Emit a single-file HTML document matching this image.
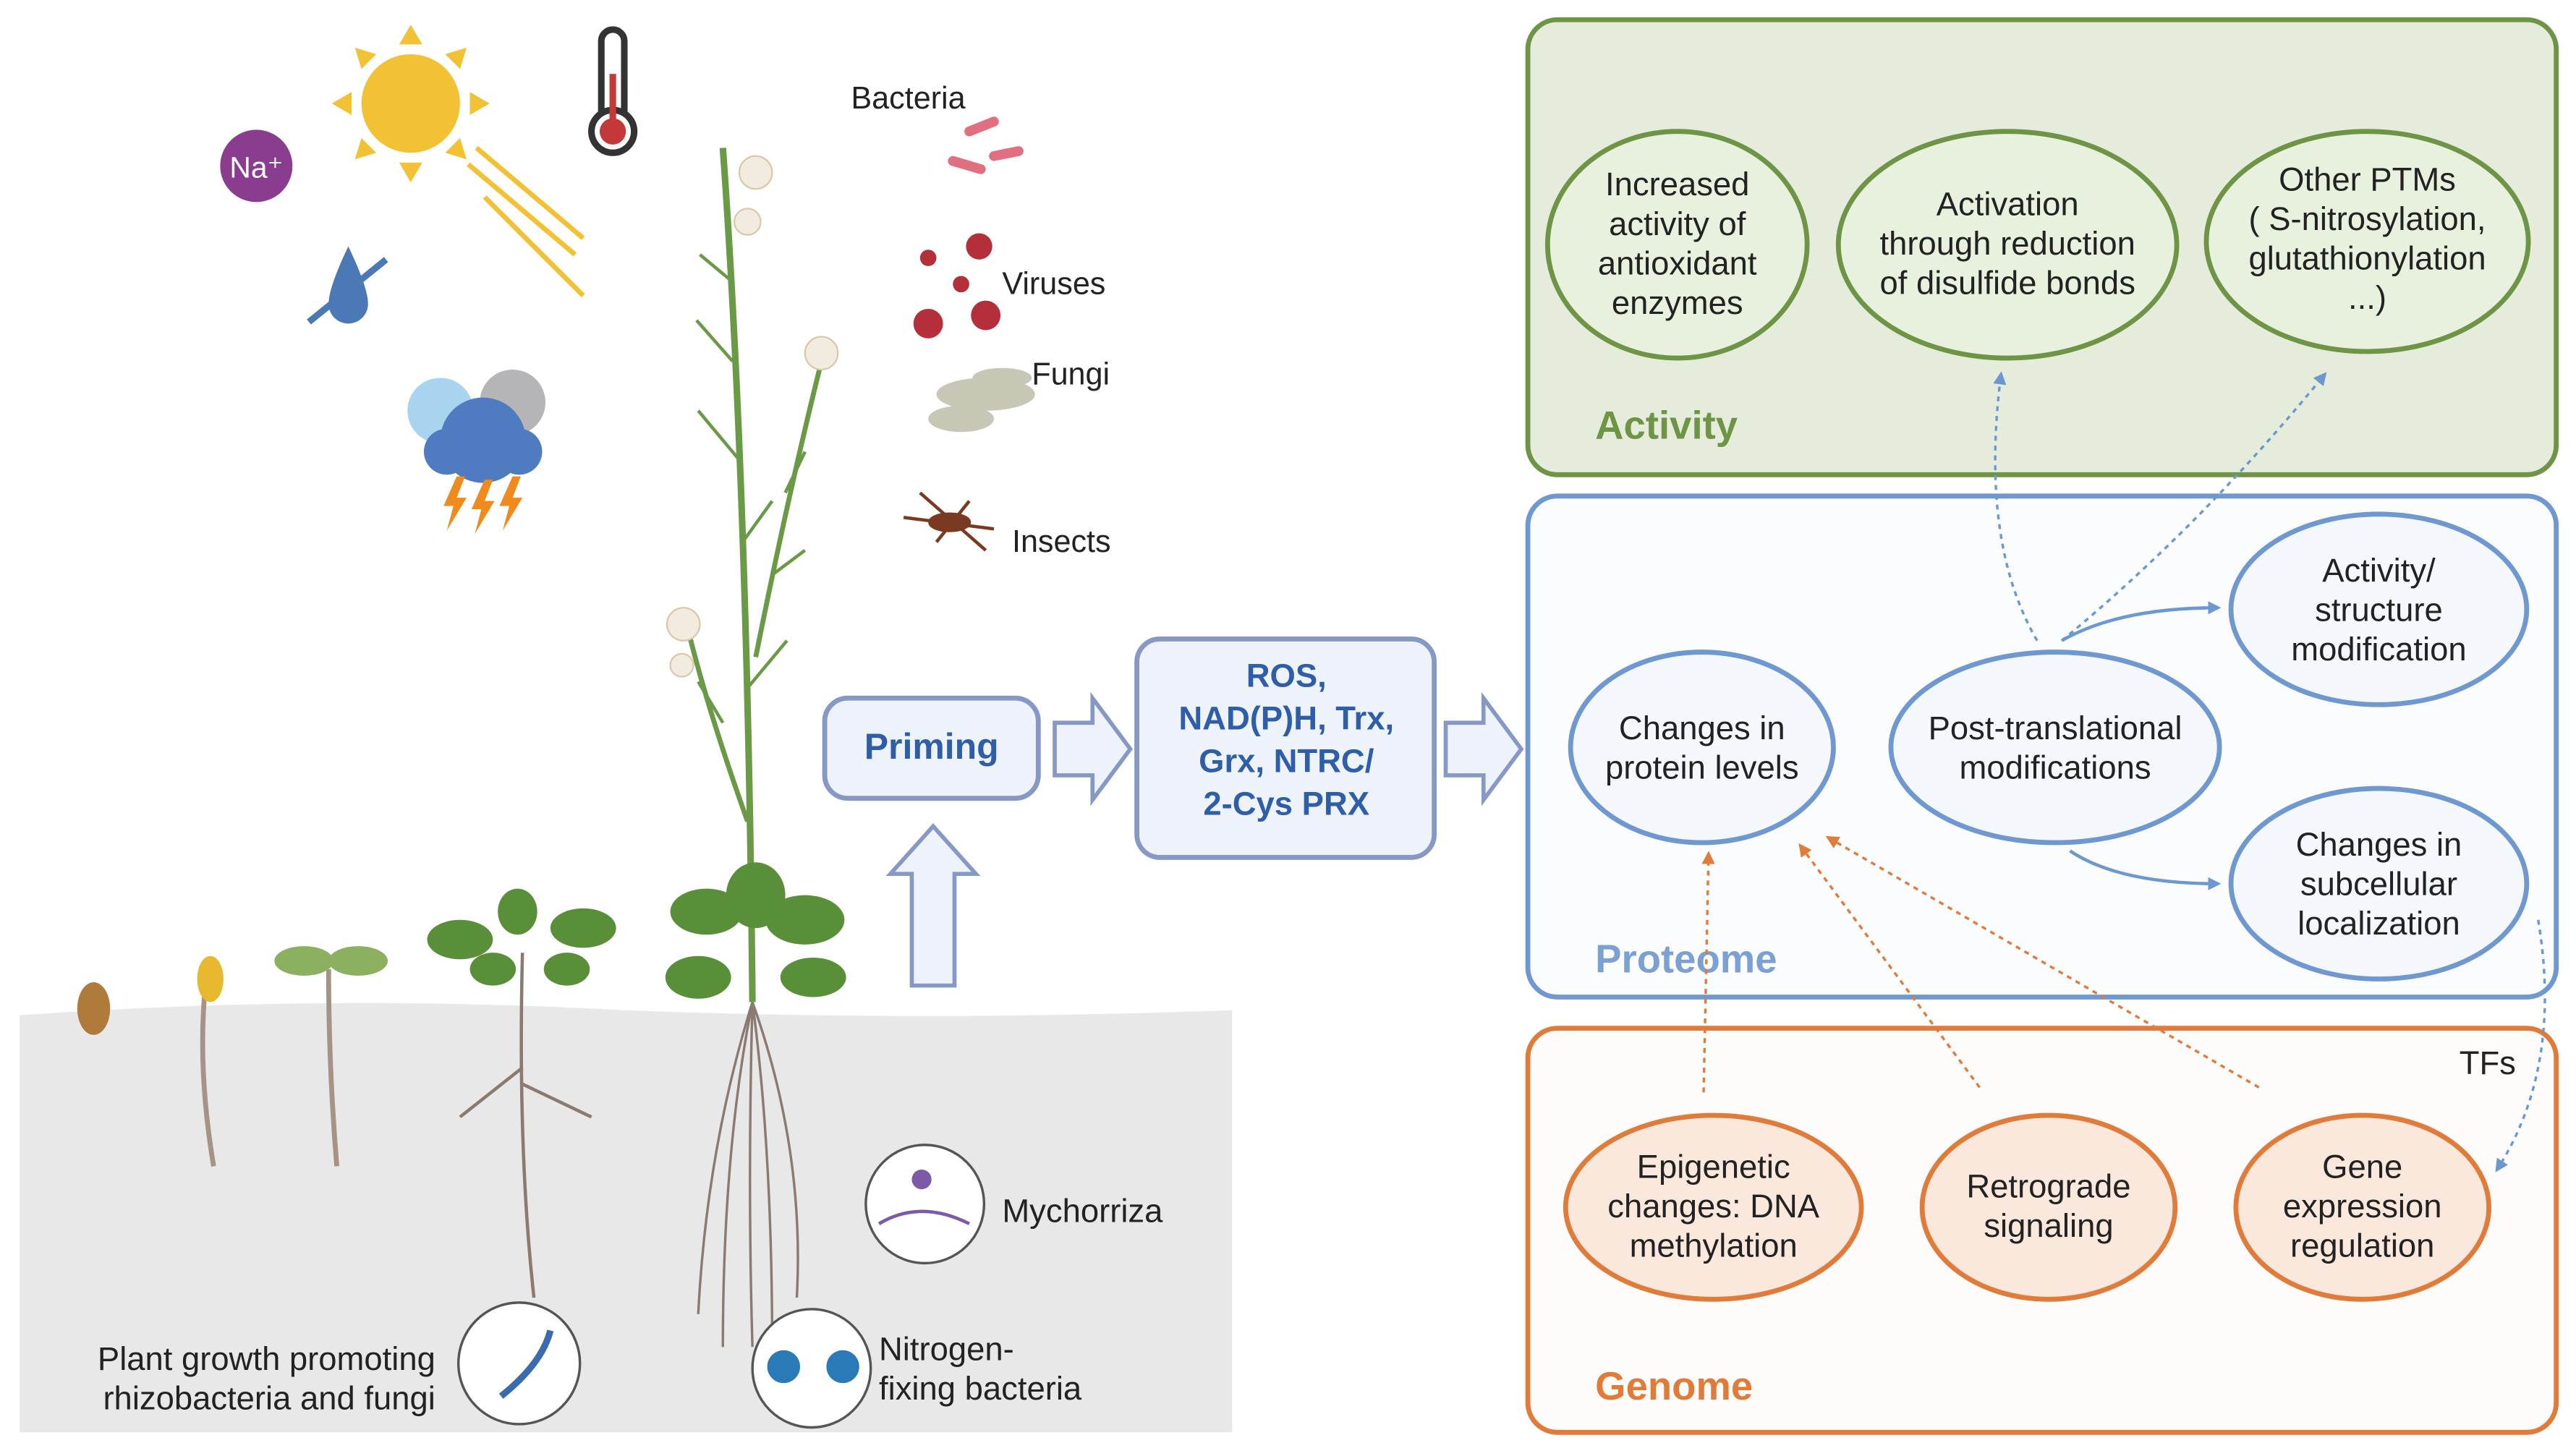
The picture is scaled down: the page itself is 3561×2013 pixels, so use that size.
<!DOCTYPE html>
<html><head><meta charset="utf-8"><style>
html,body{margin:0;padding:0;background:#fff}
svg{display:block}
text{font-family:"Liberation Sans",sans-serif}
</style></head><body>
<svg width="3561" height="2013" viewBox="0 0 1568 886.4" xmlns="http://www.w3.org/2000/svg">
<defs>
<marker id="ab" markerWidth="8" markerHeight="8" refX="6" refY="4" orient="auto" markerUnits="userSpaceOnUse"><path d="M0,0 L8,4 L0,8 Z" fill="#6a98cf"/></marker>
<marker id="ao" markerWidth="8" markerHeight="8" refX="6" refY="4" orient="auto" markerUnits="userSpaceOnUse"><path d="M0,0 L8,4 L0,8 Z" fill="#e07b3a"/></marker>
</defs>
<rect width="1568" height="887" fill="#fff"/>
<!-- soil -->
<path d="M12,618 Q200,605 380,615 Q560,622 750,615 L750,872 L12,872 Z" fill="#e9e8e8"/>
<!-- sun -->
<circle cx="250" cy="63" r="30" fill="#f2c234"/>
<g fill="#f2c234"><path d="M250,15 l7,12 h-14z"/><path d="M250,111 l7,-12 h-14z"/><path d="M202,63 l12,7 v-14z"/><path d="M298,63 l-12,7 v-14z"/><path d="M216,29 l13,4 l-9,9z"/><path d="M284,29 l-13,4 l9,9z"/><path d="M216,97 l13,-4 l-9,-9z"/><path d="M284,97 l-13,-4 l9,-9z"/></g>
<g stroke="#f2c234" stroke-width="3"><line x1="290" y1="90" x2="355" y2="145"/><line x1="285" y1="100" x2="350" y2="155"/><line x1="295" y1="120" x2="355" y2="180"/></g>
<!-- thermometer -->
<rect x="366" y="18" width="14" height="60" rx="7" fill="#fff" stroke="#333" stroke-width="4"/><circle cx="373" cy="80" r="13" fill="#fff" stroke="#333" stroke-width="4"/><circle cx="373" cy="80" r="8" fill="#c43838"/><rect x="371" y="45" width="4" height="35" fill="#c43838"/>
<!-- Na -->
<circle cx="156" cy="101" r="22" fill="#8a3d8e"/><text x="156" y="108" font-size="18" fill="#fff" text-anchor="middle">Na⁺</text>
<!-- drop -->
<path d="M212,150 Q200,175 200,185 A12,12 0 0 0 224,185 Q224,175 212,150Z" fill="#4b79b6"/><line x1="188" y1="196" x2="235" y2="158" stroke="#4b79b6" stroke-width="4"/>
<!-- clouds -->
<circle cx="268" cy="250" r="20" fill="#a8d4ef"/><circle cx="312" cy="245" r="20" fill="#b5b5b8"/><circle cx="294" cy="268" r="26" fill="#4f7cc0"/><circle cx="272" cy="275" r="14" fill="#4f7cc0"/><circle cx="316" cy="275" r="14" fill="#4f7cc0"/>
<g fill="#f08a1c"><path d="M278,290 l-8,18 h6 l-4,15 l12,-20 h-6 l5,-13z"/><path d="M295,292 l-8,18 h6 l-4,15 l12,-20 h-6 l5,-13z"/><path d="M312,290 l-8,18 h6 l-4,15 l12,-20 h-6 l5,-13z"/></g>
<!-- biotic -->
<text x="518" y="66" font-size="19" fill="#222">Bacteria</text>
<g stroke="#e07080" stroke-width="6" stroke-linecap="round"><line x1="590" y1="80" x2="605" y2="74"/><line x1="580" y1="98" x2="597" y2="103"/><line x1="605" y1="95" x2="620" y2="92"/></g>
<g fill="#b52f3a"><circle cx="596" cy="150" r="8"/><circle cx="565" cy="157" r="5"/><circle cx="585" cy="173" r="5"/><circle cx="565" cy="197" r="9"/><circle cx="600" cy="192" r="9"/></g>
<text x="610" y="179" font-size="19" fill="#222">Viruses</text>
<g fill="#c8c6b4"><ellipse cx="600" cy="240" rx="30" ry="10"/><ellipse cx="585" cy="255" rx="20" ry="8"/><ellipse cx="610" cy="230" rx="18" ry="6"/></g>
<text x="628" y="234" font-size="19" fill="#222">Fungi</text>
<g stroke="#7a3a22" stroke-width="2"><ellipse cx="578" cy="318" rx="12" ry="5" fill="#7a3a22"/><line x1="560" y1="300" x2="600" y2="335"/><line x1="570" y1="330" x2="590" y2="305"/><line x1="550" y1="315" x2="605" y2="322"/></g>
<text x="616" y="336" font-size="19" fill="#222">Insects</text>
<!-- tall plant -->
<path d="M440,90 Q455,300 458,610" stroke="#6a9a45" stroke-width="4" fill="none"/>
<path d="M460,400 Q480,300 500,220" stroke="#6a9a45" stroke-width="3" fill="none"/>
<path d="M455,500 Q430,430 418,380" stroke="#6a9a45" stroke-width="3" fill="none"/>
<g stroke="#6a9a45" stroke-width="2" fill="none"><path d="M444,170 l-18,-15"/><path d="M446,220 l-22,-25"/><path d="M450,280 l-25,-30"/><path d="M452,330 l18,-25"/><path d="M454,420 l25,-30"/><path d="M478,300 l12,-25"/><path d="M470,350 l20,-15"/><path d="M440,440 l-15,-25"/></g>
<g fill="#f2ece0" stroke="#d9c9a8"><circle cx="460" cy="105" r="10"/><circle cx="455" cy="135" r="8"/><circle cx="500" cy="215" r="10"/><circle cx="416" cy="380" r="10"/><circle cx="415" cy="405" r="7"/></g>
<g fill="#5a8f3a"><ellipse cx="430" cy="555" rx="22" ry="14"/><ellipse cx="490" cy="560" rx="24" ry="15"/><ellipse cx="460" cy="545" rx="18" ry="20"/><ellipse cx="425" cy="595" rx="20" ry="13"/><ellipse cx="495" cy="595" rx="20" ry="12"/></g>
<path d="M458,610 Q440,700 440,820 M458,610 Q470,700 470,820 M458,610 Q455,720 458,820 M458,610 Q430,700 425,800 M458,610 Q490,700 485,790" stroke="#8a7a70" stroke-width="1.5" fill="none"/>
<!-- seedlings -->
<ellipse cx="57" cy="614" rx="10" ry="16" fill="#b07a3a"/>
<path d="M125,600 Q120,650 130,710" stroke="#a59484" stroke-width="3" fill="none"/><ellipse cx="128" cy="596" rx="8" ry="14" fill="#e8b830"/>
<path d="M200,590 Q200,650 205,710" stroke="#a59484" stroke-width="3" fill="none"/><ellipse cx="185" cy="585" rx="18" ry="9" fill="#8ab060"/><ellipse cx="218" cy="585" rx="18" ry="9" fill="#8ab060"/>
<path d="M318,580 Q315,700 325,790 M318,650 L280,680 M318,660 L360,680" stroke="#8a7a70" stroke-width="2" fill="none"/>
<g fill="#5a8f3a"><ellipse cx="280" cy="572" rx="20" ry="12"/><ellipse cx="355" cy="565" rx="20" ry="12"/><ellipse cx="315" cy="555" rx="12" ry="14"/><ellipse cx="300" cy="590" rx="14" ry="10"/><ellipse cx="345" cy="590" rx="14" ry="10"/></g>
<!-- circles at bottom -->
<circle cx="563" cy="733" r="36" fill="#fff" stroke="#555" stroke-width="1.5"/><circle cx="561" cy="718" r="6" fill="#7d5aa8"/><path d="M535,745 Q560,730 590,745" stroke="#7d5aa8" stroke-width="2" fill="none"/>
<text x="610" y="744" font-size="20" fill="#222">Mychorriza</text>
<circle cx="316" cy="830" r="37" fill="#fff" stroke="#555" stroke-width="1.5"/><path d="M305,850 Q330,830 335,810" stroke="#3a6ab0" stroke-width="4" fill="none"/>
<text x="265" y="834" font-size="20" fill="#222" text-anchor="end">Plant growth promoting</text>
<text x="265" y="858" font-size="20" fill="#222" text-anchor="end">rhizobacteria and fungi</text>
<circle cx="494" cy="833" r="36" fill="#fff" stroke="#555" stroke-width="1.5"/><circle cx="477" cy="832" r="10" fill="#2a7ab8"/><circle cx="513" cy="832" r="10" fill="#2a7ab8"/>
<text x="535" y="828" font-size="20" fill="#222">Nitrogen-</text>
<text x="535" y="852" font-size="20" fill="#222">fixing bacteria</text>
<!-- priming -->
<rect x="502" y="425" width="130" height="61" rx="14" fill="#eef3fb" stroke="#8599c4" stroke-width="3"/>
<text x="567" y="462" font-size="22" font-weight="bold" fill="#2f5ea8" text-anchor="middle">Priming</text>
<path d="M642,440 H665 V425 L688,456 L665,487 V472 H642 Z" fill="#eef3fb" stroke="#8599c4" stroke-width="2.5"/>
<path d="M555,600 V532 H542 L568,503 L594,532 H581 V600 Z" fill="#eef3fb" stroke="#8599c4" stroke-width="2.5"/>
<rect x="692" y="389" width="181" height="133" rx="14" fill="#eef3fb" stroke="#8599c4" stroke-width="3"/>
<g font-size="20" font-weight="bold" fill="#2f5ea8" text-anchor="middle"><text x="783" y="418">ROS,</text><text x="783" y="444">NAD(P)H, Trx,</text><text x="783" y="470">Grx, NTRC/</text><text x="783" y="496">2-Cys PRX</text></g>
<path d="M880,440 H903 V425 L926,456 L903,487 V472 H880 Z" fill="#eef3fb" stroke="#8599c4" stroke-width="2.5"/>
<!-- Activity -->
<rect x="930" y="12" width="626" height="277" rx="18" fill="#e6ecdc" stroke="#6e9446" stroke-width="3"/>
<g fill="#e8f0de" stroke="#6e9446" stroke-width="3"><ellipse cx="1021" cy="149" rx="79" ry="69"/><ellipse cx="1222" cy="149" rx="103" ry="69"/><ellipse cx="1441" cy="147" rx="98" ry="67"/></g>
<g font-size="20" fill="#222" text-anchor="middle">
<text x="1021" y="119">Increased</text><text x="1021" y="143">activity of</text><text x="1021" y="167">antioxidant</text><text x="1021" y="191">enzymes</text>
<text x="1222" y="131">Activation</text><text x="1222" y="155">through reduction</text><text x="1222" y="179">of disulfide bonds</text>
<text x="1441" y="116">Other PTMs</text><text x="1441" y="140">( S-nitrosylation,</text><text x="1441" y="164">glutathionylation</text><text x="1441" y="188">...)</text>
</g>
<text x="971" y="267" font-size="24" font-weight="bold" fill="#6e9446">Activity</text>
<!-- Proteome -->
<rect x="930" y="302" width="626" height="305" rx="18" fill="#fbfcfe" stroke="#6e98cf" stroke-width="3"/>
<g fill="#f4f7fc" stroke="#6e98cf" stroke-width="3"><ellipse cx="1036" cy="455" rx="80" ry="58"/><ellipse cx="1251" cy="455" rx="100" ry="58"/><ellipse cx="1448" cy="371" rx="90" ry="58"/><ellipse cx="1448" cy="538" rx="90" ry="58"/></g>
<g font-size="20" fill="#222" text-anchor="middle">
<text x="1036" y="450">Changes in</text><text x="1036" y="474">protein levels</text>
<text x="1251" y="450">Post-translational</text><text x="1251" y="474">modifications</text>
<text x="1448" y="354">Activity/</text><text x="1448" y="378">structure</text><text x="1448" y="402">modification</text>
<text x="1448" y="521">Changes in</text><text x="1448" y="545">subcellular</text><text x="1448" y="569">localization</text>
</g>
<text x="971" y="592" font-size="24" font-weight="bold" fill="#7ba0d4">Proteome</text>
<!-- Genome -->
<rect x="930" y="626" width="626" height="246" rx="18" fill="#fdfcfb" stroke="#e07b3a" stroke-width="3"/>
<g fill="#fbe8dc" stroke="#e07b3a" stroke-width="3"><ellipse cx="1043" cy="735" rx="90" ry="56"/><ellipse cx="1247" cy="735" rx="77" ry="56"/><ellipse cx="1438" cy="735" rx="77" ry="56"/></g>
<g font-size="20" fill="#222" text-anchor="middle">
<text x="1043" y="717">Epigenetic</text><text x="1043" y="741">changes: DNA</text><text x="1043" y="765">methylation</text>
<text x="1247" y="729">Retrograde</text><text x="1247" y="753">signaling</text>
<text x="1438" y="717">Gene</text><text x="1438" y="741">expression</text><text x="1438" y="765">regulation</text>
</g>
<text x="971" y="852" font-size="24" font-weight="bold" fill="#e07b3a">Genome</text>
<text x="1497" y="654" font-size="20" fill="#222">TFs</text>
<!-- connectors -->
<g fill="none" stroke-width="1.5">
<path d="M1240,390 Q1205,330 1218,228" stroke="#6a98cf" stroke-dasharray="3,3" marker-end="url(#ab)"/>
<path d="M1255,390 Q1340,320 1415,228" stroke="#6a98cf" stroke-dasharray="3,3" marker-end="url(#ab)"/>
<path d="M1255,390 Q1290,370 1350,370" stroke="#6a98cf" stroke-width="2" marker-end="url(#ab)"/>
<path d="M1260,518 Q1290,538 1350,538" stroke="#6a98cf" stroke-width="2" marker-end="url(#ab)"/>
<path d="M1545,560 Q1560,650 1520,712" stroke="#6a98cf" stroke-dasharray="3,3" marker-end="url(#ab)"/>
<path d="M1037,665 L1040,520" stroke="#e07b3a" stroke-dasharray="3,3" marker-end="url(#ao)"/>
<path d="M1205,662 L1096,515" stroke="#e07b3a" stroke-dasharray="3,3" marker-end="url(#ao)"/>
<path d="M1375,662 L1113,510" stroke="#e07b3a" stroke-dasharray="3,3" marker-end="url(#ao)"/>
</g>
</svg>
</body></html>
